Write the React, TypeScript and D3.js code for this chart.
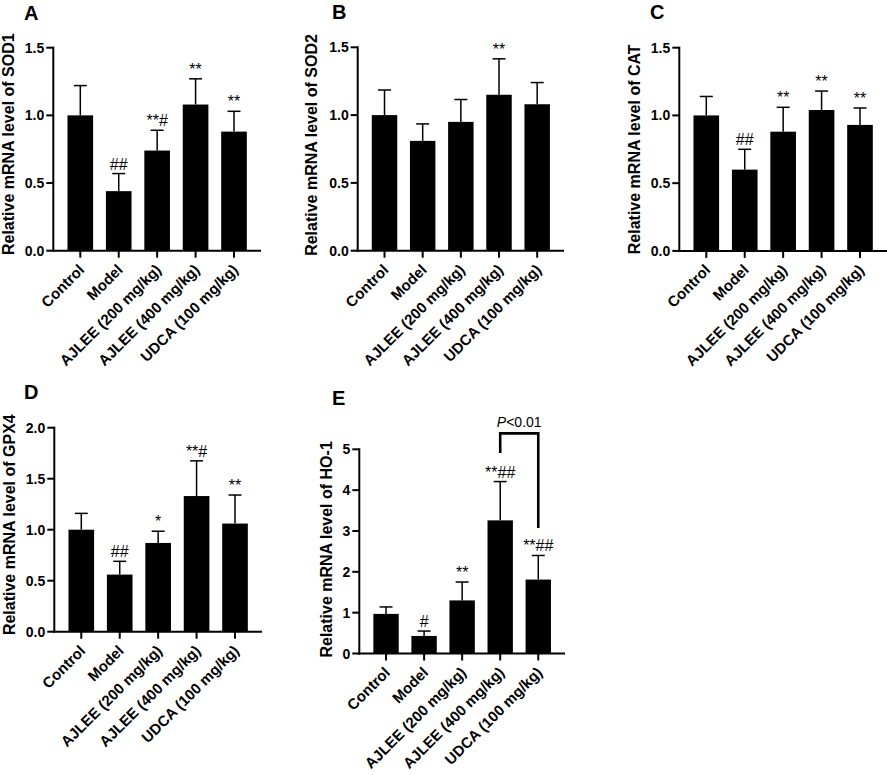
import React from "react";
import * as d3 from "d3";

const categories = [
  "Control",
  "Model",
  "AJLEE (200 mg/kg)",
  "AJLEE (400 mg/kg)",
  "UDCA (100 mg/kg)",
];

const sod1Mean = [1.0, 0.44, 0.74, 1.08, 0.88];
const sod1Err = [0.22, 0.13, 0.15, 0.19, 0.15];
const sod1Sig = ["", "##", "**#", "**", "**"];

const sod2Mean = [1.0, 0.81, 0.95, 1.15, 1.08];
const sod2Err = [0.185, 0.125, 0.165, 0.265, 0.16];
const sod2Sig = ["", "", "", "**", ""];

const catMean = [1.0, 0.6, 0.88, 1.04, 0.93];
const catErr = [0.14, 0.15, 0.18, 0.14, 0.125];
const catSig = ["", "##", "**", "**", "**"];

const gpx4Mean = [1.0, 0.56, 0.87, 1.33, 1.06];
const gpx4Err = [0.16, 0.13, 0.115, 0.345, 0.28];
const gpx4Sig = ["", "##", "*", "**#", "**"];

const ho1Mean = [0.97, 0.43, 1.3, 3.26, 1.81];
const ho1Err = [0.17, 0.12, 0.45, 0.95, 0.59];
const ho1Sig = ["", "#", "**", "**##", "**##"];

const ticks15 = [0, 0.5, 1.0, 1.5];
const ticks20 = [0, 0.5, 1.0, 1.5, 2.0];
const ticks5 = [0, 1, 2, 3, 4, 5];

// bracket in panel E: [from category index, to category index], y levels (data units)
const ho1Bracket = { from: 3, to: 4, top: 5.39, leftEnd: 4.91, rightEnd: 3.07, label: "<0.01" };

const FONT = "'Liberation Sans', Arial, Helvetica, sans-serif";

type PanelProps = {
  letter: string;
  letterX: number;
  letterY: number;
  title: string;
  titleX: number;
  titleShift: number;
  x0: number;
  x1: number;
  yTopPx: number;
  y0px: number;
  yMax: number;
  ticks: number[];
  fmt: (v: number) => string;
  mean: number[];
  err: number[];
  sig: string[];
  bracket?: typeof ho1Bracket;
};

function Panel(p: PanelProps) {
  const x = d3
    .scaleBand<string>()
    .domain(categories)
    .range([p.x0, p.x1])
    .paddingInner(0.333)
    .paddingOuter(0.369);
  const y = d3.scaleLinear().domain([0, p.yMax]).range([p.y0px, p.yTopPx]);
  const bw = x.bandwidth();
  const cx = (c: string) => (x(c) as number) + bw / 2;
  const midY = (p.y0px + p.yTopPx) / 2 + p.titleShift;
  return (
    <g>
      <text x={p.letterX} y={p.letterY} fontSize={20} fontWeight="bold" fontFamily={FONT}>
        {p.letter}
      </text>
      <text
        transform={`translate(${p.titleX},${midY}) rotate(-90)`}
        textAnchor="middle"
        fontSize={16}
        fontWeight="bold"
        fontFamily={FONT}
      >
        {p.title}
      </text>
      {categories.map((c, i) => {
        const top = y(p.mean[i]);
        const et = y(p.mean[i] + p.err[i]);
        return (
          <g key={c}>
            <rect x={x(c)} y={top} width={bw} height={p.y0px - top} fill="#000" />
            <line x1={cx(c)} x2={cx(c)} y1={top} y2={et} stroke="#000" strokeWidth={1.5} />
            <line x1={cx(c) - 6.5} x2={cx(c) + 6.5} y1={et} y2={et} stroke="#000" strokeWidth={1.5} />
            {p.sig[i] && (
              <text
                x={cx(c)}
                y={et - 4}
                textAnchor="middle"
                fontSize={16}
                fontFamily={FONT}
              >
                {p.sig[i]}
              </text>
            )}
          </g>
        );
      })}
      {/* y axis */}
      <line x1={p.x0} x2={p.x0} y1={p.y0px + 1} y2={p.yTopPx - 1} stroke="#000" strokeWidth={2} />
      {p.ticks.map((t) => (
        <g key={t}>
          <line x1={p.x0 - 7} x2={p.x0} y1={y(t)} y2={y(t)} stroke="#000" strokeWidth={2} />
          <text
            x={p.x0 - 9}
            y={y(t)}
            dy="0.36em"
            textAnchor="end"
            fontSize={14}
            fontWeight="bold"
            fontFamily={FONT}
          >
            {p.fmt(t)}
          </text>
        </g>
      ))}
      {/* x axis */}
      <line x1={p.x0 - 1} x2={p.x1} y1={p.y0px} y2={p.y0px} stroke="#000" strokeWidth={2} />
      {categories.map((c) => (
        <g key={c}>
          <line x1={cx(c)} x2={cx(c)} y1={p.y0px} y2={p.y0px + 7} stroke="#000" strokeWidth={2} />
          <text
            transform={`translate(${cx(c) + 5},${p.y0px + 20}) rotate(-45)`}
            textAnchor="end"
            fontSize={15}
            fontWeight="bold"
            fontFamily={FONT}
          >
            {c}
          </text>
        </g>
      ))}
      {p.bracket && (() => {
        const b = p.bracket!;
        const xl = cx(categories[b.from]);
        const xr = cx(categories[b.to]);
        const yt = y(b.top);
        return (
          <g>
            <path
              d={`M${xl},${y(b.leftEnd)}V${yt}H${xr}V${y(b.rightEnd)}`}
              fill="none"
              stroke="#000"
              strokeWidth={2.6}
            />
            <text
              x={(xl + xr) / 2}
              y={yt - 6}
              textAnchor="middle"
              fontSize={14}
              fontFamily={FONT}
            >
              <tspan fontStyle="italic">P</tspan>
              {b.label}
            </text>
          </g>
        );
      })()}
    </g>
  );
}

const f1 = (v: number) => d3.format(".1f")(v);
const f0 = (v: number) => d3.format("d")(v);

export default function App() {
  return (
    <svg
      width={887}
      height={775}
      style={{ position: "absolute", left: 0, top: 0, background: "#fff" }}
    >
      <rect width={887} height={775} fill="#fff" />
      <Panel letter="A" letterX={24} letterY={20} title="Relative mRNA level of SOD1" titleX={14} titleShift={-5}
        x0={53.3} x1={261} yTopPx={47.7} y0px={250.7} yMax={1.5} ticks={ticks15} fmt={f1}
        mean={sod1Mean} err={sod1Err} sig={sod1Sig} />
      <Panel letter="B" letterX={332} letterY={19} title="Relative mRNA level of SOD2" titleX={316.5} titleShift={-4}
        x0={357.7} x1={564} yTopPx={47.3} y0px={250.7} yMax={1.5} ticks={ticks15} fmt={f1}
        mean={sod2Mean} err={sod2Err} sig={sod2Sig} />
      <Panel letter="C" letterX={650} letterY={19} title="Relative mRNA level of CAT" titleX={639.5} titleShift={0}
        x0={679.3} x1={887} yTopPx={47.7} y0px={250.9} yMax={1.5} ticks={ticks15} fmt={f1}
        mean={catMean} err={catErr} sig={catSig} />
      <Panel letter="D" letterX={24} letterY={399} title="Relative mRNA level of GPX4" titleX={14.5} titleShift={-5}
        x0={54.3} x1={262} yTopPx={427.7} y0px={631.7} yMax={2.0} ticks={ticks20} fmt={f1}
        mean={gpx4Mean} err={gpx4Err} sig={gpx4Sig} />
      <Panel letter="E" letterX={332} letterY={405} title="Relative mRNA level of HO-1" titleX={331.5} titleShift={-2}
        x0={359.3} x1={565} yTopPx={449.3} y0px={653.5} yMax={5} ticks={ticks5} fmt={f0}
        mean={ho1Mean} err={ho1Err} sig={ho1Sig} bracket={ho1Bracket} />
    </svg>
  );
}
